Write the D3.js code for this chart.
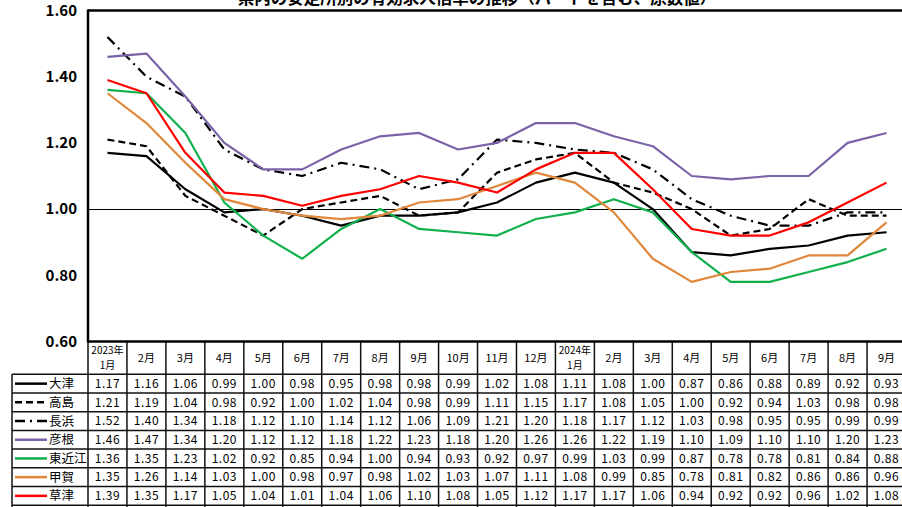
<!DOCTYPE html>
<html><head><meta charset="utf-8">
<script src="https://cdn.jsdelivr.net/npm/d3@7/dist/d3.min.js"></script>
<style>
body{margin:0;background:#fff;}
svg{display:block;}
text{font-family:"Noto Sans CJK JP","Noto Sans",sans-serif;fill:#000;}
</style>
</head><body>
<svg id="chart" width="902" height="507"></svg>
<script>
// 月（2023年1月〜2024年9月）
const months = ["2023年|1月","2月","3月","4月","5月","6月","7月","8月","9月","10月","11月","12月",
  "2024年|1月","2月","3月","4月","5月","6月","7月","8月","9月"];
const offices = ["大津","高島","長浜","彦根","東近江","甲賀","草津"];

// 安定所別 有効求人倍率
const otsu    = [1.17,1.16,1.06,0.99,1.00,0.98,0.95,0.98,0.98,0.99,1.02,1.08,1.11,1.08,1.00,0.87,0.86,0.88,0.89,0.92,0.93];
const takashima = [1.21,1.19,1.04,0.98,0.92,1.00,1.02,1.04,0.98,0.99,1.11,1.15,1.17,1.08,1.05,1.00,0.92,0.94,1.03,0.98,0.98];
const nagahama  = [1.52,1.40,1.34,1.18,1.12,1.10,1.14,1.12,1.06,1.09,1.21,1.20,1.18,1.17,1.12,1.03,0.98,0.95,0.95,0.99,0.99];
const hikone    = [1.46,1.47,1.34,1.20,1.12,1.12,1.18,1.22,1.23,1.18,1.20,1.26,1.26,1.22,1.19,1.10,1.09,1.10,1.10,1.20,1.23];
const higashiomi = [1.36,1.35,1.23,1.02,0.92,0.85,0.94,1.00,0.94,0.93,0.92,0.97,0.99,1.03,0.99,0.87,0.78,0.78,0.81,0.84,0.88];
const koka      = [1.35,1.26,1.14,1.03,1.00,0.98,0.97,0.98,1.02,1.03,1.07,1.11,1.08,0.99,0.85,0.78,0.81,0.82,0.86,0.86,0.96];
const kusatsu   = [1.39,1.35,1.17,1.05,1.04,1.01,1.04,1.06,1.10,1.08,1.05,1.12,1.17,1.17,1.06,0.94,0.92,0.92,0.96,1.02,1.08];

const yTicks = [0.60,0.80,1.00,1.20,1.40,1.60];

const seriesValues = [otsu,takashima,nagahama,hikone,higashiomi,koka,kusatsu];
const colors = ["#000000","#000000","#000000","#7b62a6","#10b04c","#e0873a","#ff0000"];
const dashes = [null,"7,4","10,5,2,5",null,null,null,null];

const series = offices.map((name,i)=>({name, values:seriesValues[i], color:colors[i], dash:dashes[i]}));

const svg = d3.select("#chart");
const plotLeft = 88, plotRight = 906, plotTop = 10.5, plotBottom = 341.5;

const x = d3.scaleBand().domain(d3.range(months.length)).range([plotLeft, plotRight]);
const y = d3.scaleLinear().domain([0.6,1.6]).range([plotBottom, plotTop]);
const cx = i => x(i) + x.bandwidth()/2;

// タイトル（上端で切れる位置）
svg.append("text")
  .attr("x", 477).attr("y", 3.5)
  .attr("text-anchor","middle")
  .style("font-size","16.5px").style("font-weight","bold")
  .text("県内の安定所別の有効求人倍率の推移（パートを含む、原数値）");

// 縦軸
const yAxis = svg.append("g")
  .attr("transform",`translate(${plotLeft},0)`)
  .call(d3.axisLeft(y).tickValues(yTicks).tickSize(0).tickPadding(11).tickFormat(d3.format(".2f")));
yAxis.select(".domain").remove();
yAxis.selectAll("text")
  .style("font-family",'"Noto Sans CJK JP",sans-serif')
  .style("font-size","15px").style("font-weight","bold").attr("fill","#000");

// 1.00 の基準線
const y1 = Math.round(y(1)) + 0.5;
svg.append("line")
  .attr("x1",plotLeft).attr("x2",902).attr("y1",y1).attr("y2",y1)
  .attr("stroke","#000").attr("stroke-width",1);

// 系列の折れ線
const line = d3.line().x((d,i)=>cx(i)).y(d=>y(d));
svg.append("g").selectAll("path").data(series).join("path")
  .attr("d", d=>line(d.values))
  .attr("fill","none")
  .attr("stroke", d=>d.color)
  .attr("stroke-width", 2.2)
  .attr("stroke-dasharray", d=>d.dash)
  .attr("stroke-linejoin","round");

// 枠線（上・左）
svg.append("line").attr("x1",plotLeft).attr("x2",902).attr("y1",plotTop).attr("y2",plotTop)
  .attr("stroke","#000").attr("stroke-width",2.5);
svg.append("line").attr("x1",plotLeft).attr("x2",plotLeft).attr("y1",plotTop-1).attr("y2",plotBottom+1)
  .attr("stroke","#000").attr("stroke-width",2.5);

// データ表
const headerBottom = 374.3;
const rows = d3.scaleBand().domain(offices).range([headerBottom, headerBottom + 18.7*offices.length]);
const tbl = svg.append("g");
const legendLeft = 12;

// 横罫線
const hLines = [headerBottom, ...offices.map(o=>rows(o)+rows.bandwidth())];
tbl.selectAll("line.h").data(hLines).join("line")
  .attr("class","h")
  .attr("x1",legendLeft).attr("x2",902)
  .attr("y1",d=>d).attr("y2",d=>d)
  .attr("stroke","#111").attr("stroke-width",1.5);

// 縦罫線
const vLines = d3.range(months.length+1).map(i=> i<months.length ? x(i) : plotRight);
tbl.selectAll("line.v").data(vLines).join("line")
  .attr("class","v")
  .attr("x1",d=>d).attr("x2",d=>d)
  .attr("y1",plotBottom).attr("y2",507)
  .attr("stroke","#111").attr("stroke-width",1.5);
tbl.append("line")
  .attr("x1",legendLeft).attr("x2",legendLeft)
  .attr("y1",headerBottom).attr("y2",507)
  .attr("stroke","#111").attr("stroke-width",1.5);

// 下側の軸線
svg.append("line").attr("x1",plotLeft).attr("x2",902).attr("y1",plotBottom).attr("y2",plotBottom)
  .attr("stroke","#000").attr("stroke-width",2.5);

// 見出し（月）
const head = tbl.selectAll("g.head").data(months).join("g").attr("class","head");
head.each(function(m,i){
  const parts = m.split("|");
  const g = d3.select(this);
  const mid = (plotBottom + headerBottom)/2;
  const fs = parts.length > 1 ? 10 : 11;
  parts.forEach((p,k)=>{
    g.append("text")
      .attr("x", cx(i))
      .attr("y", mid + (k - (parts.length-1)/2)*15)
      .attr("dy","0.36em")
      .attr("text-anchor","middle")
      .style("font-size",fs+"px")
      .text(p);
  });
});

// 凡例と数値
series.forEach(s=>{
  const yc = rows(s.name) + rows.bandwidth()/2;
  tbl.append("line")
    .attr("x1",15).attr("x2",47).attr("y1",yc).attr("y2",yc)
    .attr("stroke",s.color).attr("stroke-width",2.5)
    .attr("stroke-dasharray",s.dash);
  tbl.append("text")
    .attr("x",49).attr("y",yc).attr("dy","0.36em")
    .style("font-size","12.5px")
    .text(s.name);
  tbl.selectAll(null).data(s.values).join("text")
    .attr("x",(d,i)=>cx(i)).attr("y",yc).attr("dy","0.36em")
    .attr("text-anchor","middle")
    .style("font-size","12px").style("letter-spacing","0.5px")
    .text(d=>d3.format(".2f")(d));
});
</script>
</body></html>
